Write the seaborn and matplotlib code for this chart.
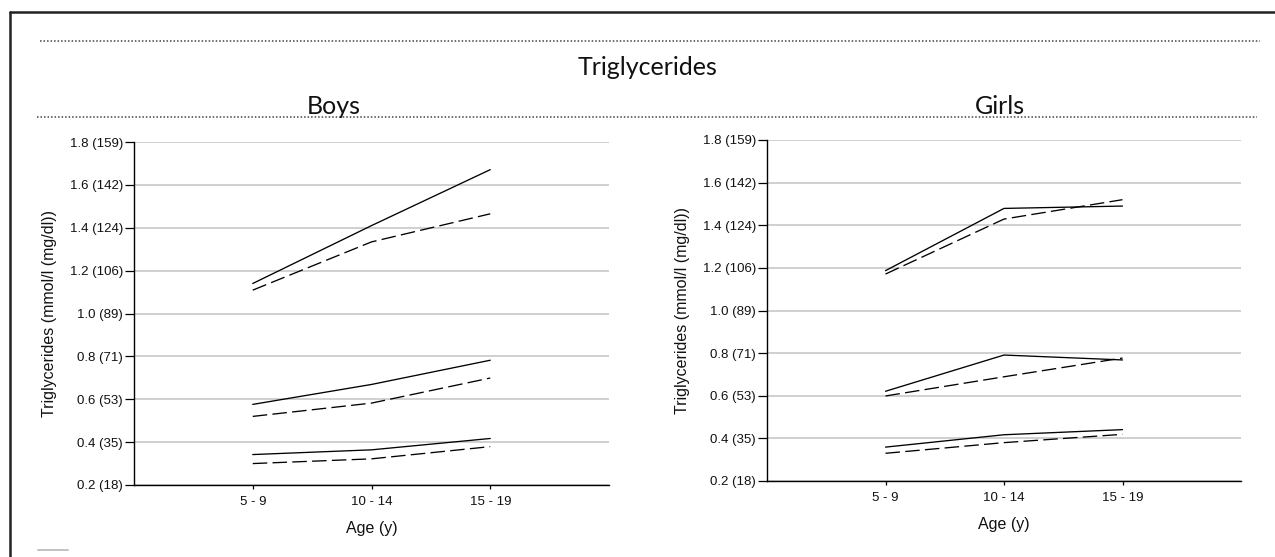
import matplotlib
matplotlib.use("Agg")
import matplotlib.pyplot as plt
from matplotlib.lines import Line2D
import seaborn as sns
import pandas as pd

# ---------------- data (mmol/l) ----------------
age_groups = ["5 - 9", "10 - 14", "15 - 19"]
levels = ["upper", "middle", "lower"]

boys_solid_upper = [1.140, 1.410, 1.671]
boys_dashed_upper = [1.109, 1.334, 1.465]
boys_solid_middle = [0.576, 0.669, 0.782]
boys_dashed_middle = [0.520, 0.582, 0.699]
boys_solid_lower = [0.342, 0.364, 0.417]
boys_dashed_lower = [0.300, 0.322, 0.379]

girls_solid_upper = [1.187, 1.479, 1.490]
girls_dashed_upper = [1.171, 1.429, 1.520]
girls_solid_middle = [0.621, 0.791, 0.768]
girls_dashed_middle = [0.599, 0.689, 0.777]
girls_solid_lower = [0.359, 0.417, 0.441]
girls_dashed_lower = [0.330, 0.380, 0.419]

y_ticks = [0.2, 0.4, 0.6, 0.8, 1.0, 1.2, 1.4, 1.6, 1.8]
y_tick_labels = ["0.2 (18)", "0.4 (35)", "0.6 (53)", "0.8 (71)", "1.0 (89)",
                 "1.2 (106)", "1.4 (124)", "1.6 (142)", "1.8 (159)"]

main_title = "Triglycerides"
panel_titles = ["Boys", "Girls"]
x_label = "Age (y)"
y_label = "Triglycerides (mmol/l (mg/dl))"


def build_frame(series):
    rows = []
    for (style, level), vals in series.items():
        for a, v in zip(age_groups, vals):
            rows.append({"age": a, "value": v, "level": level, "style": style})
    return pd.DataFrame(rows)


boys_df = build_frame({
    ("solid", "upper"): boys_solid_upper, ("dashed", "upper"): boys_dashed_upper,
    ("solid", "middle"): boys_solid_middle, ("dashed", "middle"): boys_dashed_middle,
    ("solid", "lower"): boys_solid_lower, ("dashed", "lower"): boys_dashed_lower,
})
girls_df = build_frame({
    ("solid", "upper"): girls_solid_upper, ("dashed", "upper"): girls_dashed_upper,
    ("solid", "middle"): girls_solid_middle, ("dashed", "middle"): girls_dashed_middle,
    ("solid", "lower"): girls_solid_lower, ("dashed", "lower"): girls_dashed_lower,
})

# ---------------- style ----------------
sns.set_theme(style="white")
plt.rcParams["font.family"] = ["Liberation Sans", "DejaVu Sans"]
plt.rcParams["lines.scale_dashes"] = True

W, H = 1275, 557
fig = plt.figure(figsize=(W / 100, H / 100), dpi=100)
fig.patch.set_facecolor("white")


def px_axes(left, right, top, bottom):
    return [left / W, (H - bottom) / H, (right - left) / W, (bottom - top) / H]


ax_boys = fig.add_axes(px_axes(134, 609, 142, 485))
ax_girls = fig.add_axes(px_axes(767, 1241, 140, 481))

for ax, df in [(ax_boys, boys_df), (ax_girls, girls_df)]:
    ax.set_facecolor("white")
    for y in y_ticks:
        ax.axhline(y, color="#c4c4c4", lw=1.1, zorder=0)
    sns.lineplot(data=df, x="age", y="value", units="level", style="style",
                 estimator=None, sort=False, color="black", linewidth=0.95,
                 dashes={"solid": "", "dashed": (11, 4)},
                 style_order=["solid", "dashed"], legend=False, ax=ax, zorder=3)
    ax.set_xlim(-1, 3)
    ax.set_ylim(0.2, 1.8)
    ax.set_yticks(y_ticks)
    ax.set_yticklabels(y_tick_labels)
    ax.grid(False)
    for s in ["top", "right"]:
        ax.spines[s].set_visible(False)
    for s in ["left", "bottom"]:
        ax.spines[s].set_color("black")
        ax.spines[s].set_linewidth(1.0)
        ax.spines[s].set_zorder(4)
    ax.tick_params(axis="y", direction="out", length=6.5, width=0.9,
                   color="black", pad=1.5, labelsize=9.5, labelcolor="#111111",
                   left=True)
    ax.tick_params(axis="x", direction="out", length=3, width=0.9,
                   color="black", pad=5, labelsize=9.5, labelcolor="#111111",
                   bottom=True)
    ax.set_xlabel(x_label, fontsize=11.5, color="#111111", labelpad=9)
    ax.set_ylabel(y_label, fontsize=11.5, color="#111111")
    ax.yaxis.set_label_coords(-0.162, 0.5)

# ---------------- titles & decorations ----------------
title_font = ["Lato", "DejaVu Sans"]
fig.text(648 / W, (H - 75) / H, main_title, ha="center", va="baseline",
         fontsize=18, family=title_font, color="#111111")
fig.text(334 / W, (H - 114) / H, panel_titles[0], ha="center", va="baseline",
         fontsize=18, family=title_font, color="#111111")
fig.text(1000 / W, (H - 114) / H, panel_titles[1], ha="center", va="baseline",
         fontsize=18, family=title_font, color="#111111")


def fig_line(x0, y0, x1, y1, **kw):
    fig.add_artist(Line2D([x0 / W, x1 / W], [(H - y0) / H, (H - y1) / H],
                          transform=fig.transFigure, **kw))


# dotted separator lines
fig_line(40, 41, 1260, 41, color="#444444", lw=1.1, linestyle=(0, (1, 1.3)))
fig_line(37, 117, 1257, 117, color="#444444", lw=1.1, linestyle=(0, (1, 1.3)))
# outer frame (top & left)
fig_line(10, 11.5, 1275, 11.5, color="#222222", lw=1.8)
fig_line(10, 11.5, 10, 557, color="#222222", lw=1.8)
# small grey mark bottom-left
fig_line(38, 550, 68, 550, color="#bdbdbd", lw=1.3)

fig.savefig("out.png", dpi=100, facecolor="white")
